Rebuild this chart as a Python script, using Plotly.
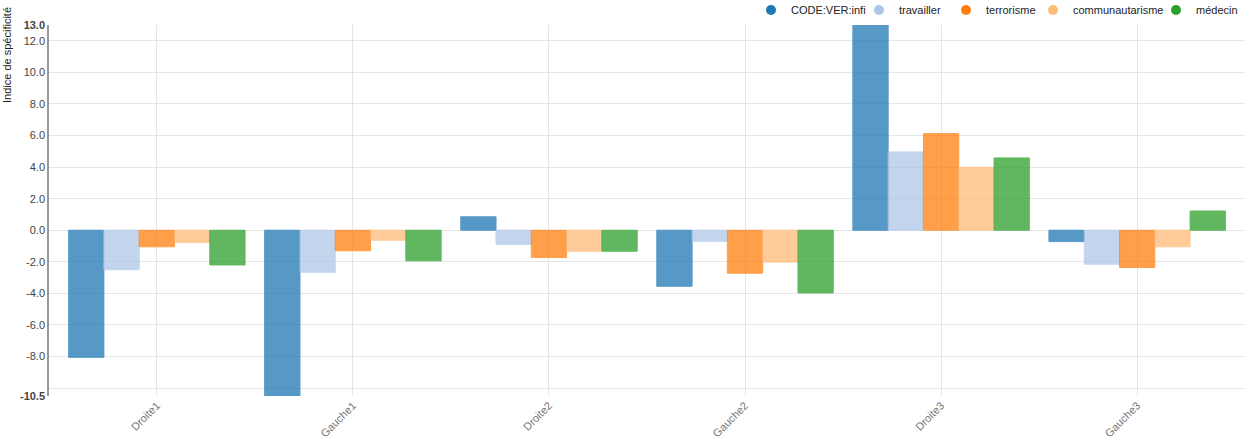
import plotly.graph_objects as go

categories = ["Droite1", "Gauche1", "Droite2", "Gauche2", "Droite3", "Gauche3"]
series_names = ["CODE:VER:infi", "travailler", "terrorisme", "communautarisme", "médecin"]
code_ver_infi = [-8.05, -10.5, 0.85, -3.55, 13.0, -0.72]
travailler = [-2.5, -2.66, -0.9, -0.7, 4.96, -2.15]
terrorisme = [-1.05, -1.3, -1.73, -2.72, 6.12, -2.36]
communautarisme = [-0.78, -0.63, -1.33, -2.02, 3.99, -1.05]
medecin = [-2.2, -1.94, -1.33, -3.97, 4.58, 1.22]
series_values = [code_ver_infi, travailler, terrorisme, communautarisme, medecin]
colors = ["#1f77b4", "#aec7e8", "#ff7f0e", "#ffbb78", "#2ca02c"]

y_tick_vals = [-10.5, -8, -6, -4, -2, 0, 2, 4, 6, 8, 10, 12, 13]
y_tick_text = ["<b>-10.5</b>", "-8.0", "-6.0", "-4.0", "-2.0", "0.0", "2.0", "4.0",
               "6.0", "8.0", "10.0", "12.0", "<b>13.0</b>"]
y_grid_vals = [-10, -8, -6, -4, -2, 0, 2, 4, 6, 8, 10, 12]

# legend symbol centre targets (pixels) -> paper coords
legend_px = [773, 881, 968, 1055, 1178]
L, R, T, B = 49, 14, 25, 45
W = 1259 - L - R
H = 441 - T - B

fig = go.Figure()
for name, vals, c in zip(series_names, series_values, colors):
    fig.add_trace(go.Bar(
        x=categories, y=vals, name=name, showlegend=False,
        marker=dict(color=c, opacity=0.75, line=dict(color=c, width=1)),
    ))

legend_layouts = {}
for i, (name, c, px) in enumerate(zip(series_names, colors, legend_px)):
    key = "legend" if i == 0 else f"legend{i+1}"
    fig.add_trace(go.Scatter(
        x=[None], y=[None], mode="markers", name=name,
        marker=dict(color=c, size=10, symbol="circle"),
        legend=key, showlegend=True,
    ))
    legend_layouts[key] = dict(
        x=(px - 2 - 20 - L) / W, xanchor="left",
        y=1 + 15 / H, yanchor="middle",
        orientation="h", itemwidth=30,
        font=dict(family="Arial, Liberation Sans", size=11, color="#222"),
        bgcolor="rgba(0,0,0,0)", borderwidth=0,
        itemclick=False, itemdoubleclick=False,
    )

fig.update_layout(
    width=1259, height=441,
    margin=dict(l=L, r=R, t=T, b=B, autoexpand=False),
    paper_bgcolor="white", plot_bgcolor="white",
    barmode="group", bargap=0.1, bargroupgap=0,
    font=dict(family="Arial, Liberation Sans", size=11, color="#333"),
    **legend_layouts,
)

fig.update_xaxes(
    type="category", range=[-0.55, 5.55],
    showgrid=True, gridcolor="#e6e6e6", gridwidth=1,
    showline=False, zeroline=False, ticks="",
    tickangle=-45, tickfont=dict(size=11, color="#777"),
    ticklabelstandoff=0,
)
fig.update_yaxes(
    range=[-10.5, 13.0],
    tickmode="array", tickvals=y_tick_vals, ticktext=y_tick_text,
    showgrid=False, zeroline=False,
    showline=True, linecolor="#999", linewidth=1.5,
    ticks="", tickfont=dict(size=11, color="#444"),
    minor=dict(tickmode="array", tickvals=y_grid_vals, showgrid=True,
               gridcolor="#e6e6e6", gridwidth=1, ticks=""),
)

fig.add_annotation(
    text="Indice de spécificité", textangle=-90,
    xref="paper", yref="paper", x=0, y=1 - (55 - T) / H,
    xshift=-42, xanchor="center", yanchor="middle",
    showarrow=False, font=dict(family="Arial, Liberation Sans", size=11, color="#222"),
)

fig.write_html("out.html")
